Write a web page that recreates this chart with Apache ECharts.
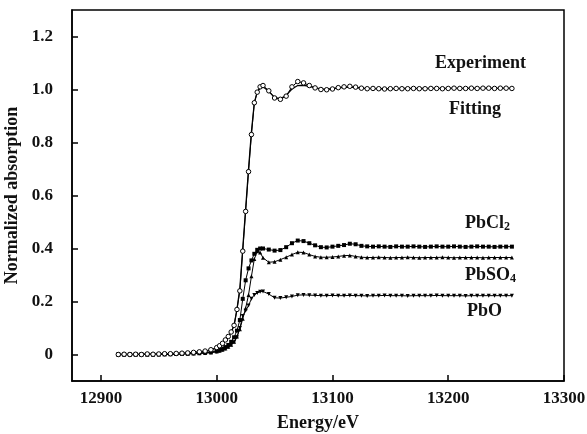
<!DOCTYPE html>
<html>
<head>
<meta charset="utf-8">
<script src="https://cdn.jsdelivr.net/npm/echarts@6/dist/echarts.min.js"></script>
<style>
html,body{margin:0;padding:0;background:#fff;}
#chart{width:587px;height:434px;}
</style>
</head>
<body>
<div id="chart"></div>
<script>
// Energy (eV)
const energy = [12915,12920,12925,12930,12935,12940,12945,12950,12955,12960,12965,12970,12975,12980,12985,12990,12995,13000,
  13002.5,13005,13007.5,13010,13012.5,13015,13017.5,13020,13022.5,13025,13027.5,13030,13032.5,13035,13037.5,13040,
  13045,13050,13055,13060,13065,13070,13075,13080,13085,13090,
  13095,13100,13105,13110,13115,13120,13125,13130,13135,13140,
  13145,13150,13155,13160,13165,13170,13175,13180,13185,13190,
  13195,13200,13205,13210,13215,13220,13225,13230,13235,13240,
  13245,13250,13255];

const experiment = [0.000,0.001,0.000,0.001,0.000,0.002,0.001,0.002,0.003,0.003,0.004,0.005,0.006,0.008,0.010,0.013,0.018,0.026,
  0.033,0.042,0.055,0.068,0.085,0.110,0.170,0.240,0.390,0.540,0.690,0.830,0.950,0.990,1.010,1.015,
  0.995,0.968,0.963,0.975,1.010,1.030,1.025,1.015,1.006,1.000,
  0.999,1.002,1.007,1.010,1.012,1.009,1.005,1.003,1.004,1.003,
  1.002,1.003,1.004,1.003,1.003,1.004,1.003,1.003,1.004,1.004,
  1.003,1.004,1.005,1.004,1.004,1.005,1.004,1.005,1.005,1.004,
  1.005,1.005,1.004];

const fitting = [0.000,0.000,0.000,0.000,0.001,0.001,0.001,0.002,0.002,0.003,0.004,0.005,0.006,0.008,0.010,0.013,0.017,0.025,
  0.032,0.041,0.053,0.066,0.083,0.110,0.170,0.250,0.400,0.550,0.700,0.840,0.950,0.990,1.005,1.010,
  0.993,0.970,0.965,0.978,1.002,1.015,1.016,1.012,1.006,1.002,
  1.001,1.003,1.006,1.008,1.009,1.007,1.005,1.004,1.003,1.003,
  1.003,1.003,1.003,1.004,1.004,1.004,1.004,1.004,1.004,1.004,
  1.004,1.004,1.004,1.004,1.004,1.004,1.004,1.004,1.004,1.004,
  1.004,1.004,1.004];

const pbcl2 = [0.000,0.000,0.000,0.000,0.000,0.000,0.000,0.001,0.001,0.002,0.002,0.003,0.004,0.005,0.006,0.008,0.010,0.014,
  0.018,0.022,0.028,0.036,0.048,0.065,0.090,0.130,0.210,0.280,0.325,0.355,0.380,0.395,0.400,0.400,
  0.396,0.392,0.394,0.405,0.420,0.430,0.428,0.420,0.412,0.405,
  0.404,0.407,0.410,0.413,0.418,0.416,0.410,0.408,0.407,0.408,
  0.407,0.406,0.408,0.407,0.407,0.408,0.407,0.406,0.407,0.408,
  0.407,0.407,0.408,0.407,0.406,0.407,0.408,0.407,0.407,0.406,
  0.407,0.407,0.407];

const pbso4 = [0.000,0.000,0.000,0.000,0.000,0.000,0.000,0.000,0.001,0.001,0.002,0.002,0.003,0.004,0.005,0.006,0.008,0.011,
  0.014,0.018,0.023,0.029,0.037,0.048,0.068,0.095,0.135,0.175,0.225,0.295,0.360,0.390,0.385,0.365,
  0.348,0.350,0.358,0.367,0.377,0.386,0.385,0.377,0.370,0.367,
  0.367,0.368,0.370,0.373,0.374,0.370,0.367,0.366,0.366,0.367,
  0.366,0.365,0.366,0.366,0.367,0.366,0.365,0.366,0.366,0.366,
  0.367,0.366,0.365,0.366,0.366,0.366,0.366,0.365,0.366,0.366,
  0.366,0.366,0.366];

const pbo = [0.000,0.000,0.000,0.000,0.000,0.000,0.000,0.000,0.001,0.001,0.001,0.002,0.002,0.003,0.004,0.005,0.007,0.010,
  0.013,0.017,0.022,0.028,0.036,0.046,0.065,0.100,0.145,0.165,0.185,0.210,0.225,0.232,0.237,0.238,
  0.228,0.214,0.213,0.216,0.219,0.224,0.225,0.224,0.223,0.222,
  0.222,0.223,0.222,0.222,0.223,0.222,0.222,0.221,0.222,0.222,
  0.223,0.222,0.222,0.222,0.221,0.222,0.222,0.222,0.222,0.223,
  0.222,0.222,0.222,0.222,0.221,0.222,0.222,0.222,0.222,0.222,
  0.222,0.222,0.222];

const xTicks = [12900,13000,13100,13200,13300];
const yTicks = [0,0.2,0.4,0.6,0.8,1.0,1.2];

const FONT = '"Liberation Serif","Times New Roman",serif';
const pairs = vals => energy.map((e,i)=>[e, vals[i]]);

const chart = echarts.init(document.getElementById('chart'), null, {renderer:'canvas'});
const txt = (text, x, y) => ({
  type:'text', left:x, top:y,
  style:{text:text, fontFamily:FONT, fontWeight:'bold', fontSize:18, fill:'#111',
    rich:{s:{fontSize:12, fontFamily:FONT, fontWeight:'bold', fill:'#111', padding:[8,0,0,0]}}}
});

chart.setOption({
  animation:false,
  backgroundColor:'#fff',
  grid:{left:72, right:23, top:10, bottom:53, containLabel:false, outerBoundsMode:'none',
    show:true, borderColor:'#000', borderWidth:1.5, backgroundColor:'transparent'},
  xAxis:{type:'value', min:12875, max:13300,
    name:'Energy/eV', nameLocation:'middle', nameGap:33,
    nameTextStyle:{fontFamily:FONT, fontWeight:'bold', fontSize:18, color:'#111'},
    axisLine:{show:true, onZero:false, lineStyle:{color:'#000', width:1.5}},
    axisTick:{show:true, inside:true, length:6, customValues:xTicks, lineStyle:{color:'#000', width:1.5}},
    axisLabel:{customValues:xTicks, margin:9, fontFamily:FONT, fontWeight:'bold', fontSize:17, color:'#111',
      formatter: v => String(Math.round(v))},
    splitLine:{show:false}},
  yAxis:{type:'value', min:-0.1, max:1.3,
    name:'Normalized absorption', nameLocation:'middle', nameGap:50,
    nameTextStyle:{fontFamily:FONT, fontWeight:'bold', fontSize:18, color:'#111'},
    axisLine:{show:true, onZero:false, lineStyle:{color:'#000', width:1.5}},
    axisTick:{show:true, inside:true, length:6, customValues:yTicks, lineStyle:{color:'#000', width:1.5}},
    axisLabel:{customValues:yTicks, margin:19, fontFamily:FONT, fontWeight:'bold', fontSize:17, color:'#111',
      formatter: v => Math.abs(v) < 1e-9 ? '0' : v.toFixed(1)},
    splitLine:{show:false}},
  series:[
    {name:'PbO', type:'line', data:pairs(pbo), symbol:'triangle', symbolRotate:180, symbolSize:4,
      lineStyle:{color:'#000', width:1}, itemStyle:{color:'#000'}},
    {name:'PbSO4', type:'line', data:pairs(pbso4), symbol:'triangle', symbolSize:4,
      lineStyle:{color:'#000', width:1}, itemStyle:{color:'#000'}},
    {name:'PbCl2', type:'line', data:pairs(pbcl2), symbol:'rect', symbolSize:4,
      lineStyle:{color:'#000', width:1}, itemStyle:{color:'#000'}},
    {name:'Fitting', type:'line', data:pairs(fitting), symbol:'none',
      lineStyle:{color:'#000', width:1.3}},
    {name:'Experiment', type:'line', data:pairs(experiment), symbol:'circle', symbolSize:4.5,
      lineStyle:{color:'#000', width:1}, itemStyle:{color:'#fff', borderColor:'#000', borderWidth:1}}
  ],
  graphic:[
    txt('Experiment', 435, 54),
    txt('Fitting', 449, 100),
    txt('PbCl{s|2}', 465, 214),
    txt('PbSO{s|4}', 465, 266),
    txt('PbO', 467, 302)
  ]
});
</script>
</body>
</html>
